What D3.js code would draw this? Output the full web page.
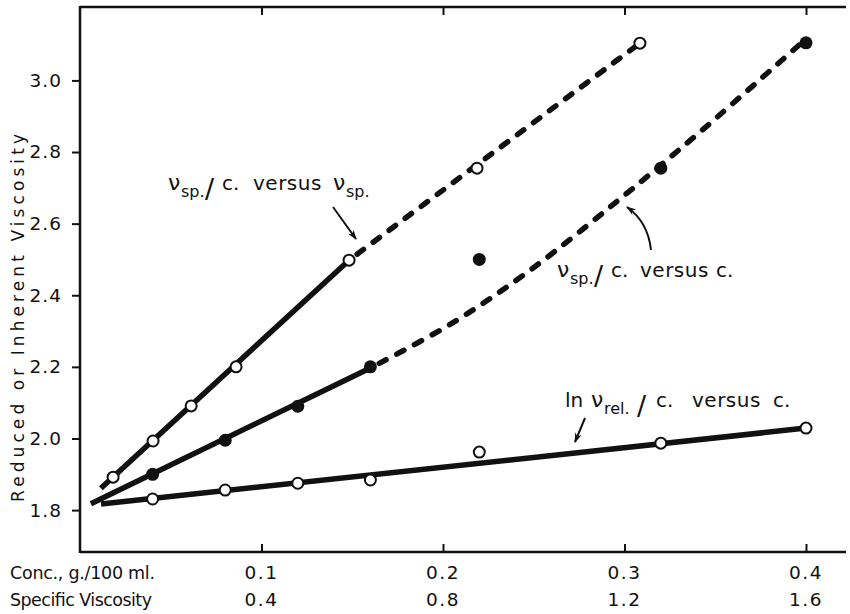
<!DOCTYPE html>
<html><head><meta charset="utf-8">
<script src="https://cdn.jsdelivr.net/npm/d3@7"></script>
<style>
body{margin:0;background:#fff}
svg{display:block}
text{font-family:"DejaVu Sans",sans-serif;fill:#111}
</style>
</head><body>
<svg id="chart" width="850" height="614"></svg>
<script>
// ---- data ----
const conc        = [0.04, 0.08, 0.12, 0.16, 0.22, 0.32, 0.40];      // g./100 ml
const reducedVisc = [1.90, 1.995, 2.09, 2.20, 2.50, 2.755, 3.105];   // νsp/c (filled)
const specVisc    = [0.073, 0.161, 0.245, 0.344, 0.593, 0.875, 1.234]; // νsp (open, upper)
const reducedOpen = [1.892, 1.993, 2.091, 2.20, 2.498, 2.755, 3.104]; // νsp/c vs νsp
const inherentVisc= [1.831, 1.856, 1.875, 1.884, 1.962, 1.987, 2.029]; // ln νrel/c

// drawn fit lines (x, value)
const fitSpSolid  = [[0.046, 1.861], [0.593, 2.498]];
const fitSpDashed = [[0.593, 2.498], [1.234, 3.104]];
const fitCSolid   = [[0.006, 1.818], [0.16, 2.197]];
const fitCDashed  = [[0.16, 2.197], [0.205, 2.322], [0.248, 2.47], [0.2975, 2.669], [0.3416, 2.856], [0.398, 3.107]];
const fitLn       = [[0.0116, 1.817], [0.40, 2.029]];

const yTicks = [1.8, 2.0, 2.2, 2.4, 2.6, 2.8, 3.0];
const concTicks = [0.1, 0.2, 0.3, 0.4];
const concTickLabels = ["0.1", "0.2", "0.3", "0.4"];
const spTickLabels = ["0.4", "0.8", "1.2", "1.6"];

(function () {
const svg = d3.select("#chart");
const pLeft = 80, pRight = 846, pTop = 7, pBottom = 552;
const x = d3.scaleLinear().domain([0, 0.4]).range([80, 806]);
const xs = d3.scaleLinear().domain([0, 1.6]).range([80, 806]);
const y = d3.scaleLinear().domain([1.683, 3.205]).range([pBottom, pTop]);

// frame
const frame = svg.append("g").attr("stroke", "#111").attr("stroke-width", 2.5).attr("fill", "none");
frame.append("line").attr("x1", pLeft).attr("x2", pLeft).attr("y1", pTop - 1).attr("y2", pBottom + 1);
frame.append("line").attr("x1", pLeft).attr("x2", pRight).attr("y1", pTop).attr("y2", pTop);
frame.append("line").attr("x1", pLeft).attr("x2", pRight).attr("y1", pBottom).attr("y2", pBottom);

// y axis
const yAxis = svg.append("g").attr("transform", `translate(${pLeft},0)`)
  .call(d3.axisLeft(y).tickValues(yTicks).tickFormat(d3.format(".1f")).tickSize(8).tickPadding(10));
yAxis.select(".domain").remove();
yAxis.selectAll(".tick line").attr("stroke", "#111").attr("stroke-width", 2);
yAxis.selectAll(".tick text").attr("font-size", 18.5).attr("letter-spacing", 1)
  .style("font-family", '"DejaVu Sans",sans-serif').attr("fill", "#111");

// bottom ticks (inward)
const bAxis = svg.append("g").attr("transform", `translate(0,${pBottom})`)
  .call(d3.axisBottom(x).tickValues(concTicks).tickSize(-8).tickFormat(""));
bAxis.select(".domain").remove();
bAxis.selectAll(".tick line").attr("stroke", "#111").attr("stroke-width", 2);
// top ticks (inward)
const tAxis = svg.append("g").attr("transform", `translate(0,${pTop})`)
  .call(d3.axisTop(x).tickValues(concTicks).tickSize(-8).tickFormat(""));
tAxis.select(".domain").remove();
tAxis.selectAll(".tick line").attr("stroke", "#111").attr("stroke-width", 2);

// x label rows
const rows = svg.append("g").attr("font-size", 18.5).attr("letter-spacing", 1.5);
rows.selectAll("text.c").data(concTicks).join("text").attr("class", "c")
  .attr("x", d => x(d)).attr("y", 579).attr("text-anchor", "middle")
  .text((d, i) => concTickLabels[i]);
rows.selectAll("text.s").data(spTickLabels).join("text").attr("class", "s")
  .attr("x", d => xs(+d)).attr("y", 606).attr("text-anchor", "middle")
  .text(d => d);
svg.append("text").attr("x", 10).attr("y", 579).attr("font-size", 17.5)
  .attr("textLength", 145).attr("lengthAdjust", "spacing").text("Conc., g./100 ml.");
svg.append("text").attr("x", 10).attr("y", 606).attr("font-size", 17.5)
  .attr("textLength", 142).attr("lengthAdjust", "spacing").text("Specific Viscosity");

// y title
svg.append("text").attr("transform", "translate(24,318) rotate(-90)")
  .attr("text-anchor", "middle").attr("font-size", 17)
  .attr("textLength", 368).attr("lengthAdjust", "spacing")
  .text("Reduced or Inherent Viscosity");

// ---- lines ----
const lineS = d3.line().x(d => xs(d[0])).y(d => y(d[1]));
const lineC = d3.line().x(d => x(d[0])).y(d => y(d[1]));
const lineCcurve = d3.line().x(d => x(d[0])).y(d => y(d[1])).curve(d3.curveCatmullRom.alpha(0.5));
const lines = svg.append("g").attr("fill", "none").attr("stroke", "#111");
lines.append("path").attr("d", lineS(fitSpSolid)).attr("stroke-width", 5.5);
lines.append("path").attr("d", lineC(fitCSolid)).attr("stroke-width", 5.5);
lines.append("path").attr("d", lineC(fitLn)).attr("stroke-width", 5.5);
lines.append("path").attr("d", lineS(fitSpDashed)).attr("stroke-width", 5.5)
  .attr("stroke-dasharray", "8,12").attr("stroke-linecap", "round").attr("stroke-dashoffset", -10);
lines.append("path").attr("d", lineCcurve(fitCDashed)).attr("stroke-width", 5.5)
  .attr("stroke-dasharray", "8,12").attr("stroke-linecap", "round").attr("stroke-dashoffset", -10);

// ---- points ----
const pts = svg.append("g");
pts.selectAll("circle.open").data(specVisc).join("circle").attr("class", "open")
  .attr("cx", d => xs(d)).attr("cy", (d, i) => y(reducedOpen[i])).attr("r", 5.5)
  .attr("fill", "#fff").attr("stroke", "#111").attr("stroke-width", 2);
pts.selectAll("circle.filled").data(conc).join("circle").attr("class", "filled")
  .attr("cx", d => x(d)).attr("cy", (d, i) => y(reducedVisc[i])).attr("r", 6.5)
  .attr("fill", "#111");
pts.selectAll("circle.ln").data(conc).join("circle").attr("class", "ln")
  .attr("cx", d => x(d)).attr("cy", (d, i) => y(inherentVisc[i])).attr("r", 5.5)
  .attr("fill", "#fff").attr("stroke", "#111").attr("stroke-width", 2);

// ---- annotations ----
svg.append("defs").append("marker").attr("id", "ah").attr("viewBox", "0 0 10 10")
  .attr("refX", 9).attr("refY", 5).attr("markerWidth", 10).attr("markerHeight", 10)
  .attr("markerUnits", "userSpaceOnUse").attr("orient", "auto")
  .append("path").attr("d", "M0,1.5 L10,5 L0,8.5 L3,5 Z").attr("fill", "#111");
const arrows = svg.append("g").attr("fill", "none").attr("stroke", "#111").attr("stroke-width", 2);
arrows.append("path").attr("d", "M333,207 L356,239").attr("marker-end", "url(#ah)");
arrows.append("path").attr("d", "M651,250 Q648,222 627,207").attr("marker-end", "url(#ah)");
arrows.append("path").attr("d", "M585,418 L575,442").attr("marker-end", "url(#ah)");

function label(parts) {
  const g = svg.append("g");
  parts.forEach(p => {
    g.append("text").attr("x", p[0]).attr("y", p[1]).attr("font-size", p[2])
      .attr("letter-spacing", p[4] || 0).text(p[3]);
  });
}
// νsp./c. versus νsp.
label([[168,190,22,"ν"],[181,197,16,"sp."],[205,198,27,"/"],[222,190,20,"c."],
       [253,190,20,"versus",0.5],[333,190,22,"ν"],[346,197,16,"sp."]]);
// νsp./c. versus c.
label([[557,277,22,"ν"],[570,284,16,"sp."],[594,285,27,"/"],[611,277,20,"c."],
       [640,277,20,"versus",0.5],[716,277,20,"c."]]);
// ln νrel./c. versus c.
label([[565,407,20,"ln"],[591,407,22,"ν"],[604,414,16,"rel."],[637,415,27,"/"],[656,407,20,"c."],
       [692,407,20,"versus",0.5],[773,407,20,"c."]]);
})();
</script>
</body></html>
